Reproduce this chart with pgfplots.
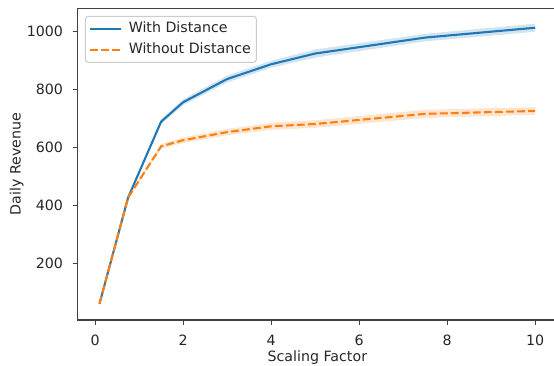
\documentclass[border=0pt]{standalone}
\usepackage{fontspec}
\setmainfont{DejaVu Sans}
\usepackage{pgfplots}
\pgfplotsset{compat=1.18}
\definecolor{cblue}{RGB}{31,119,180}
\definecolor{corange}{RGB}{255,127,14}
\newcommand{\mplfont}{\fontsize{14.2bp}{16bp}\selectfont}
\begin{document}
\begin{tikzpicture}[font=\mplfont]
\begin{axis}[
  at={(0bp,0bp)}, anchor=south west,
  scale only axis, width=479.3bp, height=311.7bp,
  xmin=-0.395, xmax=10.495, ymin=6, ymax=1081,
  xtick={0,2,4,6,8,10}, ytick={200,400,600,800,1000},
  xtick pos=lower, ytick pos=left, tick align=outside,
  major tick length=4.86bp, minor tick num=0,
  axis line style={line width=1.1bp, black!75},
  tick style={line width=1.1bp, black!75},
  /pgf/number format/assume math mode=true,
  /pgf/number format/1000 sep={},
  tick label style={font=\mplfont, inner sep=0pt, text=black!85},
  xticklabel style={anchor=north, yshift=-9.7bp},
  yticklabel style={anchor=east, xshift=-9.7bp},
  xlabel={Scaling Factor}, ylabel={Daily Revenue},
  label style={font=\mplfont, text=black!85},
  xlabel style={at={([yshift=-37.5bp]axis description cs:0.5,0)}, anchor=center, inner sep=0pt},
  ylabel style={at={([xshift=-61bp]axis description cs:0,0.5)}, anchor=center, rotate=0, inner sep=0pt},
  legend cell align=left,
  legend image code/.code={\draw[#1] (0bp,0bp) -- (30.7bp,0bp);},
  legend style={at={(axis description cs:0.0152,0.976)}, anchor=north west,
    draw=black!20, fill=white, rounded corners=3bp, line width=1bp, text=black!85,
    font=\mplfont, inner xsep=3.5bp, inner ysep=3.6bp, row sep=4bp, column sep=5bp,
    nodes={inner sep=2bp, text height=10.5bp, text depth=3bp}},
]
% blue band
\addplot[draw=none, fill=cblue, fill opacity=0.2, forget plot] coordinates {
 (0.1,65) (0.75,433) (1.5,698) (2,767) (3,849) (4,900) (5,939) (7.5,993) (10,1028)
 (10,1000) (7.5,967) (5,911) (4,876) (3,825) (2,747) (1.5,682) (0.75,423) (0.1,59)
} -- cycle;
\addplot[cblue, line width=2.08bp] coordinates {
 (0.1,62) (0.75,428) (1.5,690) (2,757) (3,837) (4,888) (5,925) (7.5,980) (10,1014)
};
\addlegendentry{With Distance}
% orange band
\addplot[draw=none, fill=corange, fill opacity=0.2, forget plot] coordinates {
 (0.1,65) (0.75,433) (1.5,613) (2,636) (3,665) (4,686) (5,695) (7.5,731) (10,740)
 (10,714) (7.5,703) (5,669) (4,662) (3,643) (2,616) (1.5,597) (0.75,423) (0.1,59)
} -- cycle;
\addplot[corange, line width=2.08bp, dash pattern=on 7.7bp off 3.33bp] coordinates {
 (0.1,62) (0.75,428) (1.5,605) (2,626) (3,654) (4,674) (5,682) (7.5,717) (10,727)
};
\addlegendentry{Without Distance}
\end{axis}
\pgfresetboundingbox
\path[use as bounding box] (-77.7bp,-46bp) rectangle (476.3bp,320bp);
\end{tikzpicture}
\end{document}
